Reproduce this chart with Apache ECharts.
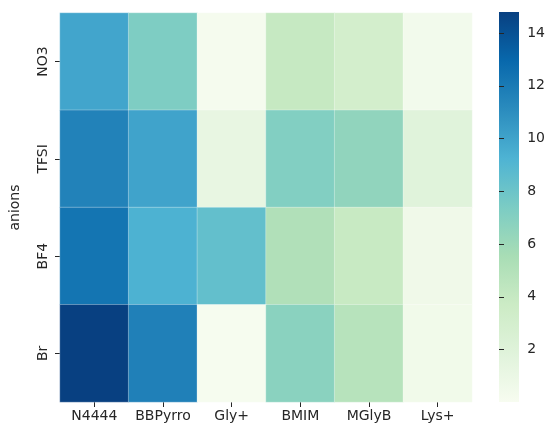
<!DOCTYPE html>
<html><head><meta charset="utf-8">
<script src="https://cdn.jsdelivr.net/npm/echarts@6/dist/echarts.min.js"></script>
<style>html,body{margin:0;padding:0;background:#fff}#c{width:548px;height:426px}</style>
</head><body><div id="c"></div>
<script>
const cations = ['N4444','BBPyrro','Gly+','BMIM','MGlyB','Lys+'];
const anions = ['NO3','TFSI','BF4','Br'];
const rowNO3  = [9.9, 7.3, 0.2, 4.0, 3.1, 0.4];
const rowTFSI = [11.6, 10.0, 1.2, 7.1, 6.5, 1.9];
const rowBF4  = [12.3, 9.3, 8.4, 5.1, 3.9, 0.6];
const rowBr   = [14.8, 11.7, 0.1, 6.8, 4.8, 0.5];
const cbarTicks = [2, 4, 6, 8, 10, 12, 14];
const vMin = 0.01, vMax = 14.8;

const rows = [rowNO3, rowTFSI, rowBF4, rowBr];
const data = [];
rows.forEach((r, yi) => r.forEach((v, xi) => data.push([xi, yi, v])));

const GnBu = ['#f7fcf0','#e0f3db','#ccebc5','#a8ddb5','#7bccc4','#4eb3d3','#2b8cbe','#0868ac','#084081'];
const font = 'DejaVu Sans';
const txt = '#262626';
const fs = 14;

const cbar = {left: 499, top: 12, width: 20, height: 390};
const stops = GnBu.map((c, i) => ({offset: 1 - i / (GnBu.length - 1), color: c})).reverse();

const chart = echarts.init(document.getElementById('c'), null, {renderer:'canvas'});
chart.setOption({
  animation: false,
  backgroundColor: '#fff',
  grid: [
    {left: 54, top: 13, width: 418, height: 389},
    {left: cbar.left, top: cbar.top, width: cbar.width, height: cbar.height}
  ],
  xAxis: [
    {type: 'category', data: cations, gridIndex: 0,
     axisLine: {show: false},
     axisTick: {show: true, alignWithLabel: true, interval: 0, length: 5, lineStyle: {color: txt, width: 1}},
     axisLabel: {color: txt, fontFamily: font, fontSize: fs, margin: 7, interval: 0},
     splitLine: {show: false}},
    {type: 'value', gridIndex: 1, show: false, min: 0, max: 1}
  ],
  yAxis: [
    {type: 'category', data: anions, inverse: true, gridIndex: 0,
     name: 'anions', nameLocation: 'middle', nameGap: 38, nameRotate: 90,
     nameTextStyle: {color: txt, fontFamily: font, fontSize: fs},
     axisLine: {show: false},
     axisTick: {show: true, alignWithLabel: true, interval: 0, length: 5, lineStyle: {color: txt, width: 1}},
     axisLabel: {color: txt, fontFamily: font, fontSize: fs, rotate: 90, margin: 10, interval: 0},
     splitLine: {show: false}},
    {type: 'value', gridIndex: 1, position: 'right', min: vMin, max: vMax,
     axisLine: {show: false},
     axisTick: {show: true, length: 5, customValues: cbarTicks, lineStyle: {color: txt, width: 1}},
     axisLabel: {show: true, customValues: cbarTicks, color: txt, fontFamily: font, fontSize: fs, margin: 9},
     splitLine: {show: false}}
  ],
  visualMap: {
    type: 'continuous', min: vMin, max: vMax, show: false,
    seriesIndex: 0, inRange: {color: GnBu}
  },
  graphic: [{
    type: 'rect', left: cbar.left, top: cbar.top, z: -1,
    shape: {width: cbar.width, height: cbar.height},
    style: {fill: new echarts.graphic.LinearGradient(0, 0, 0, 1, stops)}
  }],
  series: [{
    type: 'heatmap', xAxisIndex: 0, yAxisIndex: 0, data: data,
    itemStyle: {borderColor: 'rgba(255,255,255,0.6)', borderWidth: 0.5},
    emphasis: {disabled: true}
  }]
});
</script></body></html>
